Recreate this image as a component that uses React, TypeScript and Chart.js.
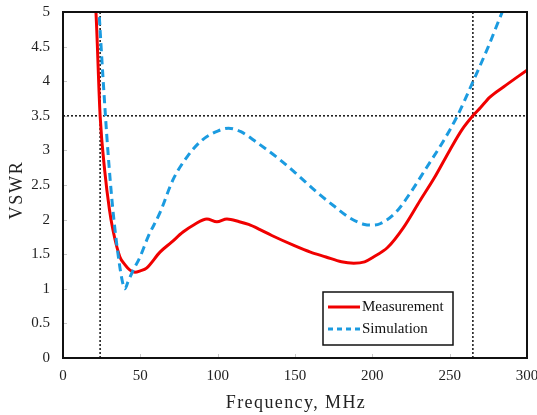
import React, { useEffect, useRef } from "react";
import { Chart, registerables } from "chart.js";

Chart.register(...registerables);

const measFreq = [19, 21.3, 24, 27, 30, 32.3, 36.8, 40, 43.3, 46.5, 50, 54, 62.7, 70, 77.6, 85, 93, 99.5, 106, 114, 120, 127, 135, 150, 160, 170, 180, 188, 195, 200, 210, 220, 231, 240, 250, 258, 265, 270, 276, 285, 300];
const measVswr = [5.6, 5.0, 3.5, 2.7, 2.15, 1.85, 1.46, 1.35, 1.27, 1.24, 1.26, 1.3, 1.53, 1.67, 1.82, 1.93, 2.01, 1.97, 2.01, 1.97, 1.93, 1.86, 1.77, 1.62, 1.53, 1.46, 1.39, 1.37, 1.39, 1.45, 1.6, 1.88, 2.28, 2.6, 3.0, 3.3, 3.5, 3.62, 3.77, 3.92, 4.16];

const simFreq = [22.5, 23.3, 26, 29, 32, 35, 38, 40, 42, 45, 49.8, 55, 62.7, 71, 80, 90, 100, 107, 115, 125, 140, 150, 165, 175, 185, 195, 200, 205, 215, 225, 235, 245, 255, 265, 275, 284, 288];
const simVswr = [5.3, 5.0, 4.0, 3.0, 2.2, 1.6, 1.15, 1.0, 1.1, 1.25, 1.46, 1.75, 2.1, 2.57, 2.9, 3.15, 3.28, 3.32, 3.27, 3.12, 2.87, 2.68, 2.38, 2.2, 2.03, 1.93, 1.92, 1.94, 2.1, 2.4, 2.75, 3.1, 3.5, 3.99, 4.5, 5.0, 5.2];

const bandEdges = [24, 265];
const vswrLimit = 3.5;

const xTicks = [0, 50, 100, 150, 200, 250, 300];
const yTicks = [0, 0.5, 1, 1.5, 2, 2.5, 3, 3.5, 4, 4.5, 5];

const seriesLabels = ["Measurement", "Simulation"];
const xTitle = "Frequency, MHz";
const yTitle = "VSWR";

const RED = "#f00000";
const BLUE = "#1b9be0";
const SERIF = "'Liberation Serif', 'Times New Roman', serif";

export default function App() {
  const ref = useRef<HTMLCanvasElement | null>(null);

  useEffect(() => {
    if (!ref.current) return;
    const pts = (xs: number[], ys: number[]) => xs.map((x, i) => ({ x, y: ys[i] }));

    const decor = {
      id: "decor",
      beforeDatasetsDraw(chart: any) {
        const { ctx, chartArea: a, scales } = chart;
        ctx.save();
        ctx.strokeStyle = "#c8c8c8";
        ctx.lineWidth = 1;
        xTicks.forEach((t) => {
          const px = Math.round(scales.x.getPixelForValue(t)) + 0.5;
          ctx.beginPath();
          ctx.moveTo(px, a.bottom);
          ctx.lineTo(px, a.bottom - 4);
          ctx.stroke();
        });
        yTicks.forEach((t) => {
          const py = Math.round(scales.y.getPixelForValue(t)) + 0.5;
          ctx.beginPath();
          ctx.moveTo(a.left, py);
          ctx.lineTo(a.left + 4, py);
          ctx.stroke();
        });
        ctx.restore();
      },
      afterDraw(chart: any) {
        const { ctx, chartArea: a } = chart;
        ctx.save();
        // frame
        ctx.strokeStyle = "#111";
        ctx.lineWidth = 2;
        ctx.strokeRect(a.left, a.top, a.right - a.left, a.bottom - a.top);

        // axis titles
        ctx.fillStyle = "#222";
        ctx.font = `18px ${SERIF}`;
        (ctx as any).letterSpacing = "1.4px";
        ctx.textAlign = "center";
        ctx.textBaseline = "middle";
        ctx.fillText(xTitle, (a.left + a.right) / 2 + 1, 403);
        ctx.save();
        ctx.translate(17, (a.top + a.bottom) / 2 + 5);
        ctx.rotate(-Math.PI / 2);
        (ctx as any).letterSpacing = "1.8px";
        ctx.fillText(yTitle, 0, 0);
        ctx.restore();
        (ctx as any).letterSpacing = "0px";

        // legend
        const lx = a.right - 204;
        const ly = a.bottom - 66;
        const lw = 130;
        const lh = 53;
        ctx.fillStyle = "#fff";
        ctx.fillRect(lx, ly, lw, lh);
        ctx.strokeStyle = "#111";
        ctx.lineWidth = 1.5;
        ctx.strokeRect(lx, ly, lw, lh);
        ctx.lineWidth = 3;
        ctx.strokeStyle = RED;
        ctx.beginPath();
        ctx.moveTo(lx + 5, ly + 15);
        ctx.lineTo(lx + 37, ly + 15);
        ctx.stroke();
        ctx.strokeStyle = BLUE;
        ctx.setLineDash([5, 4]);
        ctx.beginPath();
        ctx.moveTo(lx + 5, ly + 37);
        ctx.lineTo(lx + 37, ly + 37);
        ctx.stroke();
        ctx.setLineDash([]);
        ctx.fillStyle = "#111";
        ctx.font = `15px ${SERIF}`;
        ctx.textAlign = "left";
        ctx.textBaseline = "middle";
        ctx.fillText(seriesLabels[0], lx + 39, ly + 15);
        ctx.fillText(seriesLabels[1], lx + 39, ly + 37);
        ctx.restore();
      },
    };

    const refStyle = {
      borderColor: "#222",
      borderWidth: 1.6,
      borderDash: [2, 2],
      pointRadius: 0,
      tension: 0,
      fill: false,
      order: 5,
    };

    const chart = new Chart(ref.current, {
      type: "line",
      data: {
        datasets: [
          { ...refStyle, label: "edge1", data: [{ x: bandEdges[0], y: 0 }, { x: bandEdges[0], y: 5 }] },
          { ...refStyle, label: "edge2", data: [{ x: bandEdges[1], y: 0 }, { x: bandEdges[1], y: 5 }] },
          { ...refStyle, label: "limit", data: [{ x: 0, y: vswrLimit }, { x: 300, y: vswrLimit }] },
          {
            label: seriesLabels[0],
            data: pts(measFreq, measVswr),
            borderColor: RED,
            borderWidth: 3,
            pointRadius: 0,
            cubicInterpolationMode: "monotone",
            fill: false,
            order: 2,
          },
          {
            label: seriesLabels[1],
            data: pts(simFreq, simVswr),
            borderColor: BLUE,
            borderWidth: 3,
            borderDash: [8, 5],
            pointRadius: 0,
            cubicInterpolationMode: "monotone",
            fill: false,
            order: 1,
          },
        ] as any,
      },
      options: {
        responsive: false,
        animation: false,
        layout: { padding: { top: 12, right: 10, left: 0, bottom: 0 } },
        plugins: { legend: { display: false }, tooltip: { enabled: false } },
        scales: {
          x: {
            type: "linear",
            min: 0,
            max: 300,
            afterBuildTicks: (s: any) => {
              s.ticks = xTicks.map((v) => ({ value: v }));
            },
            ticks: {
              font: { family: SERIF, size: 15 },
              color: "#222",
              padding: 1,
              maxRotation: 0,
              callback: (v: any) => String(v),
            },
            grid: { display: false },
            border: { display: false },
            afterFit: (s: any) => {
              s.height = 57;
              s.paddingLeft = 0;
              s.paddingRight = 0;
            },
          },
          y: {
            type: "linear",
            min: 0,
            max: 5,
            afterBuildTicks: (s: any) => {
              s.ticks = yTicks.map((v) => ({ value: v }));
            },
            ticks: {
              font: { family: SERIF, size: 15 },
              color: "#222",
              padding: 5,
              callback: (v: any) => String(v),
            },
            grid: { display: false },
            border: { display: false },
            afterFit: (s: any) => {
              s.width = 63;
              s.paddingTop = 0;
              s.paddingBottom = 0;
            },
          },
        },
      } as any,
      plugins: [decor],
    });
    return () => chart.destroy();
  }, []);

  return (
    <div style={{ position: "absolute", left: 0, top: 0, width: 537, height: 415, background: "#fff" }}>
      <canvas ref={ref} width={537} height={415} style={{ width: 537, height: 415 }} />
    </div>
  );
}
